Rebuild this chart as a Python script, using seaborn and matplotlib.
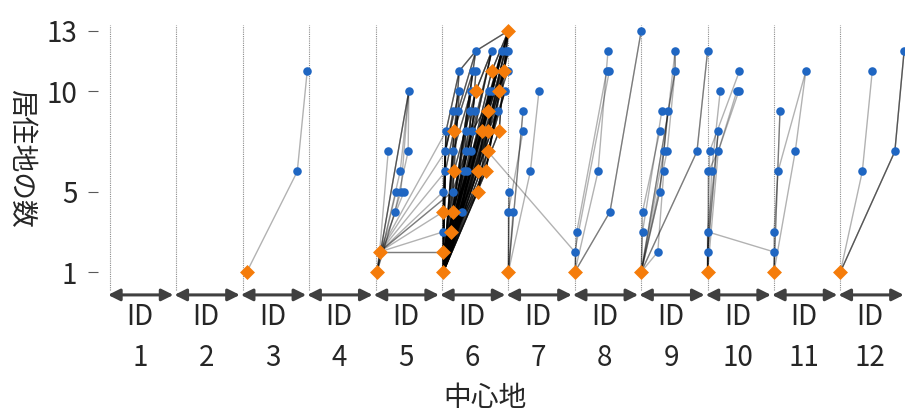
import pandas as pd
import seaborn as sns
import matplotlib.pyplot as plt

# 中心地ID (1..12)
id_numbers = list(range(1, 13))

# 軌跡: 各リストは (x, 居住地の数) の点列, x = 中心地ID-1 + 位置
paths = [
    # ID 3
    [(2.06, 1), (2.82, 6), (2.97, 11)],
    # ID 5
    [(4.02, 1), (4.50, 10)],
    [(4.02, 1), (4.38, 5), (4.50, 10)],
    [(4.02, 1), (4.29, 4), (4.49, 7), (4.50, 10)],
    [(4.06, 2), (4.19, 7)],
    [(4.02, 1), (4.37, 6), (4.50, 10)],
    [(4.02, 1), (4.31, 5)],
    [(4.06, 2), (4.43, 5)],
    [(4.02, 1), (4.06, 2)],
    # ID 5 -> ID 6
    [(4.06, 2), (5.06, 8)],
    [(4.06, 2), (5.05, 7)],
    [(4.06, 2), (5.05, 6)],
    [(4.06, 2), (5.02, 5)],
    [(4.06, 2), (5.16, 5)],
    [(4.06, 2), (5.02, 4)],
    [(4.06, 2), (5.02, 3)],
    [(4.06, 2), (5.02, 2)],
    # ID 6
    [(5.02, 1), (6.0, 13)],
    [(5.02, 1), (5.96, 12)],
    [(5.02, 1), (5.90, 12)],
    [(5.02, 1), (5.75, 12)],
    [(5.02, 1), (5.51, 12), (6.0, 13)],
    [(5.02, 1), (5.93, 11), (6.0, 13)],
    [(5.02, 1), (5.75, 11), (6.0, 13)],
    [(5.02, 1), (5.86, 10), (6.0, 12)],
    [(5.02, 1), (5.51, 10), (5.75, 12)],
    [(5.02, 1), (5.69, 9), (5.90, 12)],
    [(5.02, 1), (5.86, 8), (5.93, 11)],
    [(5.02, 1), (5.69, 8), (5.84, 9)],
    [(5.02, 1), (5.60, 8), (5.76, 10)],
    [(5.02, 1), (5.18, 8), (5.47, 11)],
    [(5.02, 1), (5.69, 7), (5.95, 10)],
    [(5.02, 1), (5.66, 6), (5.86, 10)],
    [(5.02, 1), (5.54, 6), (5.71, 10)],
    [(5.02, 1), (5.18, 6), (5.26, 10)],
    [(5.02, 1), (5.54, 5), (5.69, 8), (6.0, 13)],
    [(5.02, 1), (5.16, 4), (5.45, 8), (5.51, 11)],
    [(5.02, 1), (5.02, 4), (5.06, 8), (5.26, 11), (5.51, 12)],
    [(5.02, 1), (5.14, 3), (5.54, 6), (5.93, 11)],
    [(5.02, 1), (5.02, 5), (5.05, 7), (5.17, 9)],
    [(5.02, 1), (5.16, 5), (5.36, 7), (5.50, 9)],
    [(5.02, 1), (5.30, 4), (5.38, 6), (5.44, 7), (5.42, 9)],
    [(5.02, 1), (5.05, 6), (5.24, 9), (5.51, 12)],
    [(5.02, 1), (5.33, 6), (5.36, 8), (5.44, 10)],
    [(5.02, 1), (5.17, 7), (5.44, 10)],
    [(5.02, 1), (5.26, 11)],
    [(5.02, 1), (5.47, 11)],
    [(5.02, 1), (5.99, 11)],
    [(5.02, 1), (6.0, 12)],
    [(5.02, 1), (5.44, 10)],
    [(5.02, 1), (5.71, 10)],
    [(5.02, 1), (5.95, 10)],
    [(5.02, 1), (5.50, 9)],
    [(5.02, 1), (5.24, 9)],
    [(5.02, 1), (5.84, 9)],
    [(5.02, 1), (5.36, 8)],
    [(5.02, 1), (5.45, 8)],
    [(5.02, 1), (5.06, 8)],
    [(5.02, 1), (5.44, 7)],
    [(5.02, 1), (5.05, 7)],
    [(5.02, 1), (5.38, 6)],
    [(5.02, 2), (6.0, 13)],
    [(5.02, 2), (5.66, 6), (5.93, 11), (6.0, 13)],
    [(5.02, 2), (5.14, 3), (5.18, 6), (5.51, 10)],
    [(5.02, 2), (5.02, 3), (5.05, 7), (5.26, 10)],
    [(5.02, 2), (5.60, 8), (6.0, 12)],
    [(5.02, 2), (5.54, 5), (5.84, 9)],
    [(5.02, 2), (5.45, 8), (5.99, 11)],
    [(5.02, 2), (5.75, 12)],
    [(5.02, 2), (5.90, 12)],
    [(5.02, 2), (5.76, 10)],
    [(5.02, 1), (5.02, 2)],
    # ID 6 -> ID 8
    [(5.02, 1), (5.69, 7), (7.0, 2), (7.52, 11)],
    # ID 7
    [(6.0, 1), (6.22, 9)],
    [(6.0, 1), (6.0, 4), (6.22, 8)],
    [(6.0, 1), (6.33, 6), (6.46, 10)],
    [(6.0, 1), (6.01, 5)],
    [(6.0, 1), (6.07, 4)],
    # ID 8
    [(7.0, 1), (7.03, 3), (7.48, 11)],
    [(7.0, 1), (7.35, 6), (7.50, 12)],
    [(7.0, 1), (7.53, 4), (8.0, 13)],
    [(7.0, 1), (7.0, 2)],
    # ID 9
    [(8.0, 1), (8.02, 4), (8.28, 8)],
    [(8.0, 1), (8.02, 3), (8.31, 9)],
    [(8.0, 1), (8.51, 11), (8.51, 12)],
    [(8.0, 1), (8.34, 7), (8.51, 12)],
    [(8.0, 1), (8.28, 5), (8.40, 9)],
    [(8.0, 1), (8.39, 7), (8.51, 11)],
    [(8.0, 1), (8.25, 2), (8.34, 6)],
    [(8.0, 1), (8.84, 7), (9.0, 12)],
    # ID 10
    [(9.0, 1), (9.0, 2), (9.16, 8)],
    [(9.0, 1), (9.0, 3), (10.0, 2)],
    [(9.0, 1), (9.01, 6), (9.16, 7), (9.44, 10)],
    [(9.0, 1), (9.03, 7), (9.48, 11)],
    [(9.0, 1), (9.06, 6), (9.19, 10)],
    [(9.0, 1), (9.16, 7), (9.47, 10)],
    [(9.0, 1), (9.0, 3), (9.16, 8)],
    # ID 11
    [(10.0, 1), (10.09, 9)],
    [(10.0, 1), (10.0, 2)],
    [(10.0, 1), (10.0, 3), (10.06, 6), (10.48, 11)],
    [(10.0, 1), (10.32, 7), (10.48, 11)],
    # ID 12
    [(11.0, 1), (11.33, 6), (11.48, 11)],
    [(11.0, 1), (11.82, 7), (11.96, 12)],
]

# 各軌跡の本数 (重なりの濃さ)
path_counts = [
    1,
    3, 1, 1, 1, 1, 1, 1, 2,
    1, 1, 1, 1, 2, 1, 1, 2,
    6, 4, 4, 4, 3, 4, 4, 4, 4, 4, 4, 3, 4, 3, 4, 4, 4, 3, 4, 3, 3, 3, 3, 3, 3, 3, 3, 3,
    3, 3, 3, 3, 3, 3, 3, 3, 3, 3, 3, 3, 3, 3, 3, 3,
    4, 3, 3, 3, 3, 3, 3, 3, 3, 3, 4,
    1,
    2, 1, 1, 2, 1,
    1, 1, 2, 2,
    1, 1, 2, 1, 2, 1, 1, 2,
    2, 1, 1, 1, 1, 1, 1,
    2, 1, 1, 1,
    1, 3,
]

# 中心地の点 (オレンジ)
center_pts = [
    (2.06, 1), (4.02, 1), (4.06, 2),
    (5.02, 1), (5.02, 2), (5.14, 3), (5.02, 4), (5.16, 4), (5.54, 5),
    (5.18, 6), (5.54, 6), (5.66, 6), (5.69, 7), (5.18, 8), (5.60, 8),
    (5.69, 8), (5.86, 8), (5.69, 9), (5.51, 10), (5.86, 10), (5.75, 11),
    (5.93, 11), (6.0, 13),
    (6.0, 1), (7.0, 1), (8.0, 1), (9.0, 1), (10.0, 1), (11.0, 1),
]

rows = []
tid = 0
for p, c in zip(paths, path_counts):
    for _ in range(c):
        for i, (x, y) in enumerate(p):
            rows.append({'traj': tid, 'order': i, 'x': x, 'y': y})
        tid += 1
lines = pd.DataFrame(rows)

center_set = set(center_pts)
verts = sorted({(x, y) for p in paths for (x, y) in p})
blue = pd.DataFrame([v for v in verts if v not in center_set], columns=['x', 'y'])
orange = pd.DataFrame(center_pts, columns=['x', 'y'])

sns.set_style('white')
plt.rcParams['font.family'] = ['Noto Sans CJK JP', 'DejaVu Sans']
txt = '#262626'

fig = plt.figure(figsize=(9.05, 4.12), dpi=100)
ax = fig.add_axes([98 / 905, 1 - 300 / 412, 807 / 905, 280 / 412])

# 区切りの点線
ax.vlines(range(0, 13), 0.1, 13.3, colors='#8c8c8c', linestyles=(0, (1, 1)), lw=0.8, zorder=1)

sns.lineplot(data=lines, x='x', y='y', units='traj', estimator=None, sort=False,
             color='black', alpha=0.3, lw=1.0, legend=False, ax=ax, zorder=2)
sns.scatterplot(data=blue, x='x', y='y', color='#1f66c2', s=38, linewidth=0,
                ax=ax, zorder=3, legend=False)
sns.scatterplot(data=orange, x='x', y='y', color='#f57c0a', marker='D', s=58, linewidth=0,
                ax=ax, zorder=4, legend=False)

ax.set_xlim(-0.181, 11.973)
ax.set_ylim(-0.393, 13.537)
for s in ax.spines.values():
    s.set_visible(False)
ax.set_xticks([])
ax.set_yticks([1, 5, 10, 13])
ax.set_yticklabels(['1', '5', '10', '13'])
ax.tick_params(axis='y', left=True, length=7, width=0.8, color='#595959', pad=8,
               labelsize=20, labelcolor=txt)
ax.set_xlabel('')
ax.set_ylabel('')

# 矢印と ID ラベル
for k, n in enumerate(id_numbers):
    ax.annotate('', xy=(k + 0.955, -0.14), xytext=(k - 0.03, -0.14),
                arrowprops=dict(arrowstyle='<|-|>,head_length=0.7,head_width=0.35',
                                color='#404040', lw=2.2, mutation_scale=10,
                                shrinkA=0, shrinkB=0),
                annotation_clip=False)
    ax.text(k + 0.45, -1.25, 'ID', ha='center', va='center', fontsize=20,
            color=txt, clip_on=False)
    ax.text(k + 0.45, -3.3, str(n), ha='center', va='center', fontsize=20,
            color=txt, clip_on=False)

fig.text(485 / 905, 1 - 398 / 412, '中心地', ha='center', va='center', fontsize=20, color=txt)
fig.text(21 / 905, 1 - 158 / 412, '居住地の数', ha='center', va='center', rotation=270,
         fontsize=20, color=txt)

fig.savefig('out.png', dpi=100)
